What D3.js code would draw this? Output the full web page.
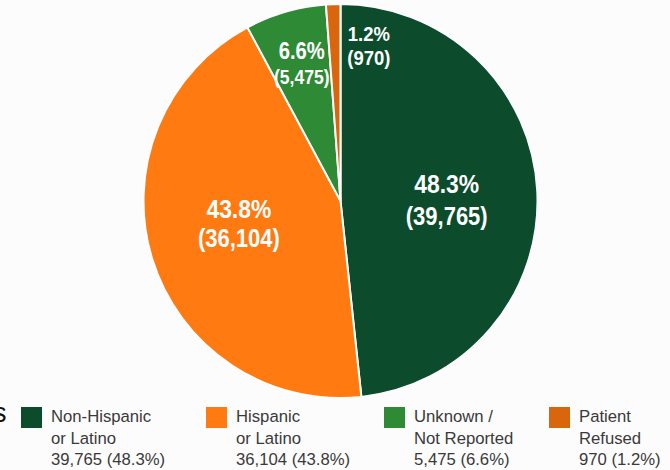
<!DOCTYPE html>
<html><head><meta charset="utf-8">
<script src="https://cdn.jsdelivr.net/npm/d3@7"></script>
<style>
html,body{margin:0;padding:0;background:#fcfcfc;}
svg{display:block;font-family:"Liberation Sans",Arial,sans-serif;}
</style></head>
<body><svg id="c" width="670" height="470"></svg>
<script>
const categories = ["Non-Hispanic or Latino","Hispanic or Latino","Unknown / Not Reported","Patient Refused"];
const legendLines = [["Non-Hispanic","or Latino"],["Hispanic","or Latino"],["Unknown /","Not Reported"],["Patient","Refused"]];
const values = [39765, 36104, 5475, 970];
const percents = ["48.3%","43.8%","6.6%","1.2%"];
const colors = ["#0c4c2c","#ff7a10","#2f8a35","#d9650c"];

const svg = d3.select("#c");
const cx = 340.5, cy = 201, R = 197;
const g = svg.append("g").attr("transform",`translate(${cx},${cy})`);
const pie = d3.pie().sort(null).value(d=>d)(values);
const arc = d3.arc().innerRadius(0).outerRadius(R);
g.selectAll("path").data(pie).join("path")
  .attr("d",arc).attr("fill",(d,i)=>colors[i])
  .attr("stroke","#ffffff").attr("stroke-width",2);

const fmt = d3.format(",");
// label settings: radius factor, extra offsets, font sizes, baseline offsets
const lab = [
  {r:0.54, dx:0, dy:0, f1:26, f2:25, b1:-2, b2:30},
  {r:0.54, dx:0, dy:-7, f1:26, f2:25, b1:-7, b2:22},
  {r:0.74, dx:2, dy:0, f1:23, f2:20, b1:-2, b2:23},
  {r:0.78, dx:34, dy:0, f1:21, f2:21, b1:-6, b2:18}
];
pie.forEach((d,i)=>{
  const L = lab[i];
  const a = (d.startAngle+d.endAngle)/2;
  const x = Math.sin(a)*R*L.r + L.dx;
  const y = -Math.cos(a)*R*L.r + L.dy;
  const t = g.append("g").attr("transform",`translate(${x},${y}) scale(0.88,1)`)
    .attr("fill","#ffffff").attr("font-weight","bold").attr("text-anchor","middle");
  t.append("text").attr("y",L.b1).attr("font-size",L.f1).text(percents[i]);
  t.append("text").attr("y",L.b2).attr("font-size",L.f2).text("("+fmt(values[i])+")");
});

// stray cut-off text at left edge (as in the reference)
svg.append("text").attr("x",-7).attr("y",422).attr("font-size",27).attr("fill","#111").text("s");

// legend
const lx = [21, 206, 384, 549];
const lg = svg.append("g");
categories.forEach((c,i)=>{
  lg.append("rect").attr("x",lx[i]).attr("y",407).attr("width",21).attr("height",21).attr("fill",colors[i]);
  const lines = legendLines[i].concat([fmt(values[i])+" ("+percents[i]+")"]);
  lines.forEach((s,j)=>{
    lg.append("text").attr("x",lx[i]+30).attr("y",422+j*21.5).attr("font-size",16.7)
      .attr("fill","#3a3a3a").text(s);
  });
});
</script></body></html>
